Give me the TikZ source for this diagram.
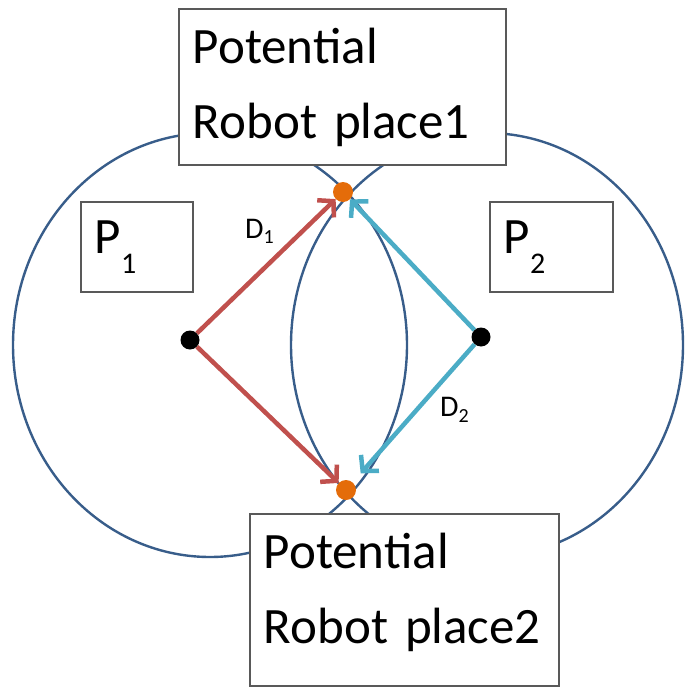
\documentclass[tikz,border=0pt]{standalone}
\usepackage{fontspec}
\setmainfont{Carlito}
\usetikzlibrary{arrows.meta}
\definecolor{ringblue}{HTML}{385D8A}
\definecolor{spotorange}{HTML}{E46C0A}
\definecolor{arrowred}{HTML}{C0504D}
\definecolor{arrowcyan}{HTML}{4BACC6}
\definecolor{boxgray}{HTML}{595959}
\newcommand{\lowered}[3]{\raisebox{-#2}{\fontsize{#1}{#1}\selectfont #3}}

\begin{document}
\begin{tikzpicture}[x=1pt, y=-1pt,
    placebox/.style={draw=boxgray, line width=1.6pt, fill=white, anchor=north west,
      align=left, inner xsep=14pt, inner ysep=0pt, font=\fontsize{51}{75}\selectfont},
    ring/.style={draw=ringblue, line width=2.4pt},
    spot/.style={circle, fill=spotorange, inner sep=0pt, minimum size=20pt},
    robot/.style={circle, fill=black, inner sep=0pt, minimum size=19pt},
    distarrow/.style={line width=4.5pt, -{Straight Barb[length=11pt, width=24pt]}},
    distlabel/.style={anchor=base west, inner sep=0pt, font=\fontsize{30}{30}\selectfont}]
    \useasboundingbox (0,0) rectangle (694,688);

    % Reach of each robot
    \draw[ring] (210,345) ellipse [x radius=197pt, y radius=212pt];
    \draw[ring] (487,345) ellipse [x radius=196pt, y radius=212pt];

    % Candidate places and zone names
    \node[placebox, minimum width=327pt, minimum height=156pt, text width=299pt,
      text height=40pt, text depth=86pt] (place1) at (178,8) {Potential\\Robot place1};
    \node[placebox, minimum width=309pt, minimum height=172pt, text width=281pt,
      text height=40pt, text depth=102pt] (place2) at (249,513) {Potential\\Robot place2};
    \node[placebox, minimum width=112pt, minimum height=90pt, text width=84pt] (zone1) at (80,201) {P\lowered{30pt}{20pt}{1}};
    \node[placebox, minimum width=123pt, minimum height=90pt, text width=95pt] (zone2) at (489,201) {P\lowered{30pt}{20pt}{2}};

    % Robots and meeting points
    \node[robot] (robot1) at (190,340) {};
    \node[robot] (robot2) at (481,337) {};
    \node[spot] (meet1) at (343,192) {};
    \node[spot] (meet2) at (346,490) {};

    % Distances
    \draw[distarrow, arrowred] (robot1) -- (meet1);
    \draw[distarrow, arrowred] (robot1) -- (meet2);
    \draw[distarrow, arrowcyan] (robot2) -- (meet1);
    \draw[distarrow, arrowcyan, shorten >=12pt] (robot2) -- (meet2);
    \node[distlabel] (dist1) at (245,238) {D\lowered{20pt}{5pt}{1}};
    \node[distlabel] (dist2) at (440,416) {D\lowered{20pt}{6pt}{2}};
\end{tikzpicture}
\end{document}
